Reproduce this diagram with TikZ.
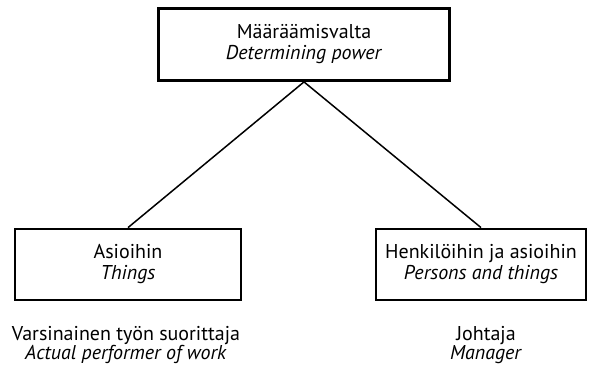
\documentclass[tikz,border=0pt]{standalone}
\usepackage{fontspec}
\setmainfont{PT Sans}
\begin{document}
\begin{tikzpicture}[x=1pt,y=-1pt,
  box/.style={draw, line width=2.8pt, inner sep=0pt, align=center,
    font=\fontsize{20}{21}\selectfont},
  link/.style={line width=1.5pt},
  lbl/.style={align=center, inner sep=0pt, font=\fontsize{20}{19}\selectfont}]
  \useasboundingbox (0,0) rectangle (589,367);
  % boxes
  \node[box, minimum width=291pt, minimum height=72pt] (top) at (304,44.5)
    {Määräämisvalta\\\textit{Determining power}};
  \node[box, minimum width=226pt, minimum height=71pt] (things) at (128,264.5)
    {Asioihin\\\textit{Things}};
  \node[box, minimum width=210pt, minimum height=71pt] (persons) at (481,264.5)
    {Henkilöihin ja asioihin\\\textit{Persons and things}};
  % connectors
  \draw[link] (top.south) -- (things.north);
  \draw[link] (top.south) -- (persons.north);
  % role captions
  \node[lbl] (performer) at (126,345) {Varsinainen työn suorittaja\\\textit{Actual performer of work}};
  \node[lbl] (manager) at (486,345) {Johtaja\\\textit{Manager}};
\end{tikzpicture}
\end{document}
